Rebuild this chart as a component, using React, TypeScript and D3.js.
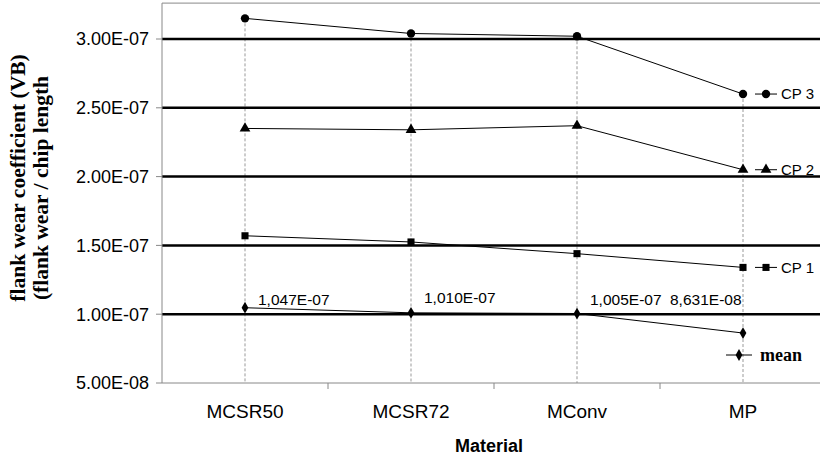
import * as d3 from "d3";

const materials = ["MCSR50", "MCSR72", "MConv", "MP"];
const cp3 = [3.15e-7, 3.04e-7, 3.02e-7, 2.6e-7];
const cp2 = [2.35e-7, 2.34e-7, 2.37e-7, 2.05e-7];
const cp1 = [1.57e-7, 1.525e-7, 1.44e-7, 1.34e-7];
const mean = [1.047e-7, 1.01e-7, 1.005e-7, 8.631e-8];
const meanLabels = ["1,047E-07", "1,010E-07", "1,005E-07", "8,631E-08"];
const yTicks = [5e-8, 1e-7, 1.5e-7, 2e-7, 2.5e-7, 3e-7];

const W = 820;
const H = 458;
const m = { left: 162, top: 4.6, bottom: 383 };

export default function App() {
  const x = d3.scaleBand().domain(materials).range([m.left, m.left + 664]);
  const y = d3.scaleLinear().domain([5e-8, 3.25e-7]).range([m.bottom, m.top]);
  const cx = (d: string) => (x(d) ?? 0) + x.bandwidth() / 2;
  const line = d3.line<number>().x((_, i) => cx(materials[i])).y((v) => y(v));
  const sans = "Arial, 'Liberation Sans', sans-serif";
  const serif = "'Times New Roman', 'Liberation Serif', serif";

  const series = [
    { name: "CP 3", vals: cp3, shape: d3.symbolCircle, size: 55 },
    { name: "CP 2", vals: cp2, shape: d3.symbolTriangle, size: 50 },
    { name: "CP 1", vals: cp1, shape: d3.symbolSquare, size: 50 },
    { name: "mean", vals: mean, shape: d3.symbolDiamond, size: 40 },
  ];

  const fmt = (v: number) => {
    const [a, b] = v.toExponential(2).toUpperCase().split("E");
    const e = parseInt(b);
    return `${a}E${e < 0 ? "-" : "+"}${String(Math.abs(e)).padStart(2, "0")}`;
  };

  return (
    <svg width={W} height={H} style={{ position: "absolute", left: 0, top: 0, background: "#fff" }}>
      {/* drop lines */}
      {materials.map((d, i) => (
        <line key={d} x1={cx(d)} x2={cx(d)} y1={y(cp3[i])} y2={m.bottom}
          stroke="#999" strokeDasharray="3,2" strokeWidth={1} />
      ))}
      {/* grid */}
      {yTicks.slice(1).map((t) => (
        <line key={t} x1={m.left} x2={W} y1={y(t)} y2={y(t)} stroke="#000" strokeWidth={2.5} />
      ))}
      {/* frame */}
      <line x1={m.left} x2={W} y1={m.top - 1.5} y2={m.top - 1.5} stroke="#888" />
      <line x1={m.left} x2={m.left} y1={m.top - 1.5} y2={m.bottom} stroke="#888" />
      <line x1={m.left} x2={W} y1={m.bottom} y2={m.bottom} stroke="#888" />
      {yTicks.map((t) => (
        <g key={t}>
          <line x1={m.left - 6} x2={m.left} y1={y(t)} y2={y(t)} stroke="#888" />
          <text x={149} y={y(t)} dy="0.36em" textAnchor="end" fontFamily={sans} fontSize={18}>{fmt(t)}</text>
        </g>
      ))}
      {[1, 2, 3, 4].map((k) => {
        const xv = m.left + k * x.bandwidth();
        return <line key={k} x1={xv} x2={xv} y1={m.bottom} y2={m.bottom + 6} stroke="#888" />;
      })}
      {materials.map((d) => (
        <text key={d} x={cx(d)} y={418} textAnchor="middle" fontFamily={sans} fontSize={19}>{d}</text>
      ))}
      <text x={489} y={452} textAnchor="middle" fontFamily={sans} fontSize={18} fontWeight="bold">Material</text>
      <g fontFamily={serif} fontSize={21.5} fontWeight="bold" textAnchor="middle">
        <text transform="translate(25,178) rotate(-90)">flank wear coefficient (VB)</text>
        <text transform="translate(48,188) rotate(-90)">(flank wear / chip length</text>
      </g>
      {/* series */}
      {series.map((s) => (
        <g key={s.name}>
          <path d={line(s.vals) ?? ""} fill="none" stroke="#000" strokeWidth={1} />
          {s.vals.map((v, i) => (
            <path key={i} transform={`translate(${cx(materials[i])},${y(v)})`}
              d={d3.symbol(s.shape, s.size)() ?? ""} fill="#000" />
          ))}
        </g>
      ))}
      {/* mean labels */}
      {mean.map((v, i) => (
        <text key={i} x={cx(materials[i]) + (i === 3 ? -73 : 13)} y={y(1e-7) - 9 - (i === 1 ? 2 : 0)}
          fontFamily={sans} fontSize={15.5}>{meanLabels[i]}</text>
      ))}
      {/* legend */}
      {series.slice(0, 3).map((s) => {
        const ly = y(s.vals[3]);
        return (
          <g key={s.name}>
            <line x1={755} x2={777} y1={ly} y2={ly} stroke="#000" />
            <path transform={`translate(766,${ly})`} d={d3.symbol(s.shape, s.size)() ?? ""} fill="#000" />
            <text x={781} y={ly} dy="0.36em" fontFamily={sans} fontSize={15}>{s.name}</text>
          </g>
        );
      })}
      <g>
        <line x1={726} x2={752} y1={355} y2={355} stroke="#000" />
        <path transform="translate(739,355)" d={d3.symbol(d3.symbolDiamond, 40)() ?? ""} fill="#000" />
        <text x={760} y={355} dy="0.33em" fontFamily={serif} fontSize={18} fontWeight="bold">mean</text>
      </g>
    </svg>
  );
}
